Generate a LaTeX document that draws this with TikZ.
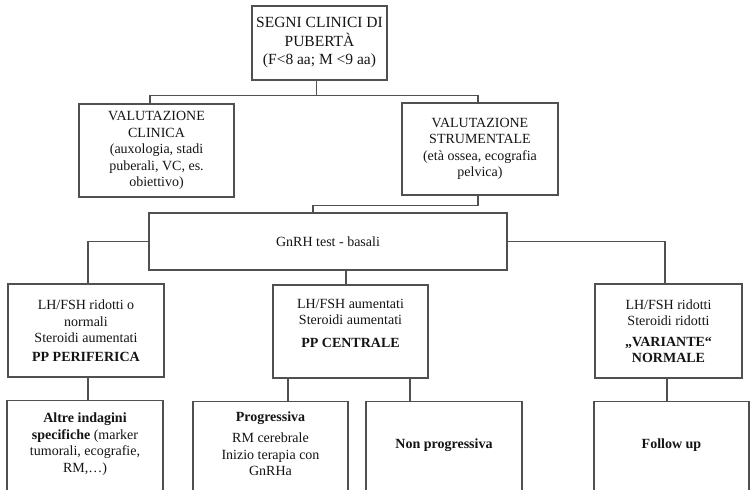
\documentclass[tikz,border=0pt]{standalone}
\usepackage{fontspec}
\setmainfont{Liberation Serif}
\usepackage{tikz}
\usetikzlibrary{positioning,calc}
\definecolor{boxline}{RGB}{80,80,80}
\definecolor{boxtext}{RGB}{20,20,20}

\begin{document}
\begin{tikzpicture}[x=1pt,y=-1pt,
    box/.style={draw=boxline, line width=1.4pt, fill=white, align=center, text=boxtext,
        font=\fontsize{14}{16.5}\selectfont, inner sep=2pt},
    lowbox/.style={box, anchor=north, minimum height=100},
    link/.style={draw=boxline, line width=1.4pt}]
    \useasboundingbox (0,0) rectangle (750,490);
    \clip (0,0) rectangle (750,490);

    % Starting point
    \node[box, minimum width=135, minimum height=74, font=\fontsize{15.5}{18.5}\selectfont] (segni) at (319.5,43)
        {SEGNI CLINICI DI\\PUBERTÀ\\(F<8 aa; M <9 aa)};

    % Two kinds of evaluation
    \node[box, minimum width=155, minimum height=93] (clinica) at (156.5,150.5)
        {VALUTAZIONE\\CLINICA\\(auxologia, stadi\\puberali, VC, es.\\obiettivo)};
    \node[box, minimum width=156, minimum height=92] (strumentale) at (480,149)
        {VALUTAZIONE\\STRUMENTALE\\(età ossea, ecografia\\pelvica)};

    % Hormone test
    \node[box, minimum width=358, minimum height=57] (gnrh) at (328,241.5)
        {GnRH test - basali};

    % Outcomes of the test
    \node[box, minimum width=156, minimum height=93] (periferica) at (86,330.5)
        {LH/FSH ridotti o\\normali\\Steroidi aumentati\\[2pt]\textbf{PP PERIFERICA}};
    \node[box, minimum width=155, minimum height=93] (centrale) at (350.5,331.5)
        {LH/FSH aumentati\\Steroidi aumentati\\[6pt]\textbf{PP CENTRALE}\\\mbox{}};
    \node[box, minimum width=147, minimum height=94] (variante) at (668.5,331)
        {LH/FSH ridotti\\Steroidi ridotti\\[4pt]\textbf{„VARIANTE“}\\\textbf{NORMALE}};

    % Further steps (boxes run past the lower edge)
    \node[lowbox, minimum width=156] (altre) at (85,400)
        {\textbf{Altre indagini}\\\textbf{specifiche} (marker\\tumorali, ecografie,\\RM,…)\\\mbox{}};
    \node[lowbox, minimum width=155] (progressiva) at (270.5,401)
        {\textbf{Progressiva}\\[5pt]RM cerebrale\\Inizio terapia con\\GnRHa\\\mbox{}};
    \node[lowbox, minimum width=156] (nonprog) at (444,401)
        {\textbf{Non progressiva}\\\mbox{}};
    \node[lowbox, minimum width=155] (followup) at (671.5,401)
        {\textbf{Follow up}\\\mbox{}};

    % Connectors
    \draw[link] (segni.south) ++(-3,0) -- ++(0,15) coordinate (split1);
    \draw[link] (clinica.north) ++(-6.5,0) |- (split1) -| ([xshift=-2]strumentale.north);
    \draw[link] (strumentale.south) ++(-2,0) -- ++(0,10) -| ([xshift=-15]gnrh.north);
    \draw[link] (gnrh.west) -| ([xshift=2]periferica.north);
    \draw[link] (gnrh.east) -| ([xshift=-3.5]variante.north);
    \draw[link] (centrale.north) ++(-4.5,0) coordinate (c0) -- (c0 |- gnrh.south);

    \draw[link] (periferica.south) ++(2,0) coordinate (p1) -- (p1 |- altre.north);
    \draw[link] (centrale.south) ++(-62.5,0) coordinate (c1) -- (c1 |- progressiva.north);
    \draw[link] (centrale.south) ++(59.5,0) coordinate (c2) -- (c2 |- nonprog.north);
    \draw[link] (variante.south) ++(-1.5,0) coordinate (v1) -- (v1 |- followup.north);
\end{tikzpicture}
\end{document}
